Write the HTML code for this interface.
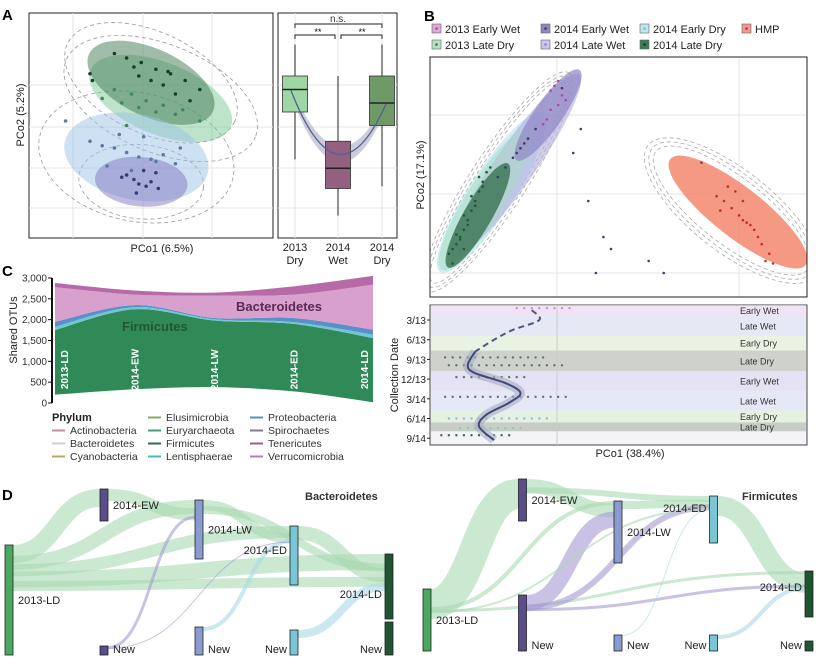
<!DOCTYPE html>
<html><head><meta charset="utf-8"><style>
html,body{margin:0;padding:0;background:#fff;}
svg{display:block;font-family:"Liberation Sans",Arial,sans-serif;}
</style></head><body>
<svg id="fig" width="818" height="665" viewBox="0 0 818 665" xmlns="http://www.w3.org/2000/svg">
<defs><clipPath id="clipB"><rect x="430" y="57" width="377" height="240"/></clipPath></defs>
<text x="2" y="20" font-size="15" font-weight="bold">A</text>
<text x="424" y="21" font-size="15" font-weight="bold">B</text>
<text x="2" y="276" font-size="15" font-weight="bold">C</text>
<text x="2" y="500" font-size="15" font-weight="bold">D</text>

<g id="gA">
<rect x="29" y="13" width="244" height="225" fill="#fff" stroke="#222" stroke-width="1"/>
<g stroke="#e4e4e4" stroke-width="1">
<line x1="73" y1="13" x2="73" y2="238"/><line x1="143" y1="13" x2="143" y2="238"/><line x1="212" y1="13" x2="212" y2="238"/>
<line x1="29" y1="85" x2="273" y2="85"/><line x1="29" y1="127" x2="273" y2="127"/><line x1="29" y1="168" x2="273" y2="168"/><line x1="29" y1="208" x2="273" y2="208"/>
</g>
</g>
<text x="162" y="252" font-size="11" text-anchor="middle" fill="#222">PCo1 (6.5%)</text>
<text transform="translate(24,115) rotate(-90)" font-size="11" text-anchor="middle" fill="#222">PCo2 (5.2%)</text>

<g id="gBox">
<rect x="278" y="13" width="119" height="225" fill="#fff" stroke="#222" stroke-width="1"/>
<g stroke="#e4e4e4">
<line x1="295" y1="13" x2="295" y2="238"/><line x1="338" y1="13" x2="338" y2="238"/><line x1="382" y1="13" x2="382" y2="238"/>
<line x1="278" y1="85" x2="397" y2="85"/><line x1="278" y1="127" x2="397" y2="127"/><line x1="278" y1="168" x2="397" y2="168"/><line x1="278" y1="208" x2="397" y2="208"/>
</g>
<path d="M295 28 V24 H382 V28" fill="none" stroke="#222"/>
<text x="338" y="22" font-size="10" text-anchor="middle" fill="#333">n.s.</text>
<path d="M295 39 V35 H335 V39" fill="none" stroke="#222"/>
<path d="M341 39 V35 H382 V39" fill="none" stroke="#222"/>
<text x="318" y="35" font-size="9" text-anchor="middle">**</text>
<text x="362" y="35" font-size="9" text-anchor="middle">**</text>
</g>

<g id="gBlegend"></g>
<rect x="430" y="57" width="377" height="240" fill="#fff"/>
<g stroke="#e4e4e4">
<line x1="557" y1="57" x2="557" y2="297"/><line x1="739" y1="57" x2="739" y2="297"/>
<line x1="430" y1="115" x2="807" y2="115"/><line x1="430" y1="194" x2="807" y2="194"/><line x1="430" y1="273" x2="807" y2="273"/>
</g>
<g id="gB" clip-path="url(#clipB)"></g>
<rect x="430" y="57" width="377" height="240" fill="none" stroke="#222"/>
<text transform="translate(424,175) rotate(-90)" font-size="11" text-anchor="middle" fill="#222">PCo2 (17.1%)</text>
<g id="gBt"></g>
<text x="630" y="457" font-size="11" text-anchor="middle" fill="#222">PCo1 (38.4%)</text>
<text transform="translate(398,375) rotate(-90)" font-size="11" text-anchor="middle" fill="#222">Collection Date</text>

<g id="gC"></g>
<text transform="translate(17,330) rotate(-90)" font-size="11" text-anchor="middle" fill="#222">Shared OTUs</text>
<g id="gCleg"></g>

<g id="gD"></g>
<text x="305" y="500" font-size="11" font-weight="bold" fill="#333">Bacteroidetes</text>
<text x="742" y="500" font-size="11" font-weight="bold" fill="#333">Firmicutes</text>
</svg>
<script>
const NS='http://www.w3.org/2000/svg';
function mk(tag,attrs,parent){const e=document.createElementNS(NS,tag);for(const k in attrs)e.setAttribute(k,attrs[k]);parent.appendChild(e);return e;}

/* ---------- Panel A scatter data ---------- */
const aGroups=['2013 Late Dry','2014 Late Dry','2014 Late Wet','2014 Early Wet'];
const aColors=['#7cc895','#3f7a52','#9cc4e6','#8478c0'];
const aEllCx=[54,50,44,46];
const aEllCy=[62,69,36,25];
const aEllRx=[31,28,30,19];
const aEllRy=[16,15,19,11];
const aEllAng=[22,25,12,5];
const aPtsX=[[30,38,45,52,60,35,42,48,55,63,70,40],[35,40,46,52,58,64,70,45,50,55,60,66,43,57,25,26],[25,30,35,40,45,50,55,60,32,42,52,62,47,37,15],[40,43,45,47,50,53,38,44,48,52]];
const aPtsY=[[62,60,58,56,55,66,64,61,59,57,52,50],[82,80,78,75,73,70,66,72,70,68,64,61,76,74,73,70],[43,41,40,38,36,35,37,33,32,30,34,40,45,46,52],[28,26,24,30,25,22,27,20,23,29]];
const aDot=['#3f8a5a','#17402a','#5a7aa8','#3a3a7a'];
const ax=v=>29+v*2.44, ay=v=>238-v*2.25;
const gA=document.getElementById('gA');
for(let i=0;i<aGroups.length;i++){
  const d=mk('ellipse',{cx:ax(aEllCx[i]),cy:ay(aEllCy[i]),rx:aEllRx[i]*2.44*1.35,ry:aEllRy[i]*2.25*1.5,transform:`rotate(${aEllAng[i]} ${ax(aEllCx[i])} ${ay(aEllCy[i])})`,fill:'none',stroke:'#999','stroke-dasharray':'4 3','stroke-width':0.8},gA);
  
  
}
for(let i=0;i<aGroups.length;i++){
  const e=mk('ellipse',{cx:ax(aEllCx[i]),cy:ay(aEllCy[i]),rx:aEllRx[i]*2.44,ry:aEllRy[i]*2.25,transform:`rotate(${aEllAng[i]} ${ax(aEllCx[i])} ${ay(aEllCy[i])})`,fill:aColors[i],'fill-opacity':0.5},gA);
  
  
}
for(let i=0;i<aGroups.length;i++){
  for(let j=0;j<aPtsX[i].length;j++){
    const p=mk('circle',{cx:ax(aPtsX[i][j]),cy:ay(aPtsY[i][j]),r:1.8,fill:aDot[i]},gA);
    
    
  }
}

/* ---------- Panel A boxplot data ---------- */
const boxCats=['2013|Dry','2014|Wet','2014|Dry'];
const boxQ1=[56,22,50];
const boxMed=[66,31,60];
const boxQ3=[72,43,72];
const boxLo=[35,10,23];
const boxHi=[86,72,86];
const boxColors=['#9fd6a6','#93607f','#6f9a68'];
const bxPos=[295,338,382];
const by=v=>238-v*2.25;
const gBox=document.getElementById('gBox');
const rib=mk('path',{d:`M${bxPos[0]-4} ${by(boxMed[0])-4} Q${bxPos[1]} ${by(boxMed[1])*1.25-10} ${bxPos[2]+4} ${by(boxMed[2])-4} L${bxPos[2]+4} ${by(boxMed[2])+6} Q${bxPos[1]} ${by(boxMed[1])*1.25+12} ${bxPos[0]-4} ${by(boxMed[0])+6}Z`,fill:'#9a9ab8','fill-opacity':0.5},gBox);


for(let i=0;i<boxCats.length;i++){
  const x=bxPos[i];
  const w=mk('line',{x1:x,x2:x,y1:by(boxHi[i]),y2:by(boxLo[i]),stroke:'#222','stroke-width':1},gBox);
  
  
  const b=mk('rect',{x:x-12.5,y:by(boxQ3[i]),width:25,height:by(boxQ1[i])-by(boxQ3[i]),fill:boxColors[i],stroke:'#333','stroke-width':0.8},gBox);
  
  
  const m=mk('line',{x1:x-12.5,x2:x+12.5,y1:by(boxMed[i]),y2:by(boxMed[i]),stroke:'#222','stroke-width':1.4},gBox);
  
  
  const parts=boxCats[i].split('|');
  const t1=mk('text',{x:x,y:251,'font-size':11,'text-anchor':'middle',fill:'#222'},gBox);t1.textContent=parts[0];
  
  
  const t2=mk('text',{x:x,y:264,'font-size':11,'text-anchor':'middle',fill:'#222'},gBox);t2.textContent=parts[1];
  
  
}
const tr=mk('path',{d:`M${bxPos[0]-4} ${by(boxMed[0])+1} Q${bxPos[1]} ${by(boxMed[1])*1.25+1} ${bxPos[2]+4} ${by(boxMed[2])+1}`,fill:'none',stroke:'#55608a','stroke-width':1.3},gBox);



/* ---------- Panel B legend ---------- */
const legLabels=['2013 Early Wet','2014 Early Wet','2014 Early Dry','HMP','2013 Late Dry','2014 Late Wet','2014 Late Dry'];
const legColors=['#e2a6db','#8f86c4','#bfe7ee','#f19a8f','#b5e0c2','#c8c6ea','#3e7a56'];
const legDots=['#b04aa0','#3d3670','#6cc0d0','#c0302a','#2d7a4c','#8a86c6','#0f3a22'];
const legX=[432,541,640,742,432,541,640];
const legY=[29,29,29,29,45,45,45];
const gBl=document.getElementById('gBlegend');
for(let i=0;i<legLabels.length;i++){
  const r=mk('rect',{x:legX[i],y:legY[i]-5,width:9,height:9,fill:legColors[i],stroke:'#666','stroke-width':0.6},gBl);
  
  
  const c=mk('circle',{cx:legX[i]+4.5,cy:legY[i]-0.5,r:1.3,fill:legDots[i]},gBl);
  
  
  const t=mk('text',{x:legX[i]+13,y:legY[i]+4,'font-size':11,fill:'#222'},gBl);t.textContent=legLabels[i];
  
  
}

/* ---------- Panel B scatter data ---------- */
const bEllCx=[16.4,22.5,14.6,31.3,12.7,81.7];
const bEllCy=[43.7,54.6,40.4,75.8,34,35.4];
const bEllRx=[95,112,82,55,60,86];
const bEllRy=[22,20,19,14,14,25];
const bEllAng=[-57,-55,-58,-55,-60,38];
const bEllFill=['#bfe7ee','#b7b2e0','#a8dcc0','#8f86c4','#2f6b48','#f3866e'];
const bEllOp=[0.75,0.65,0.5,0.7,0.75,0.85];
const bx=v=>430+v*3.77, byy=v=>297-v*2.4;
const gB=document.getElementById('gB');
const bDashCx=[18,18,18,80,80,80];
const bDashCy=[48,48,48,36,36,36];
const bDashRx=[120,125,130,96,101,106];
const bDashRy=[22,25,28,33,37,41];
const bDashAng=[-57,-57,-57,38,38,38];
for(let i=0;i<bDashCx.length;i++){
  const e=mk('ellipse',{cx:bx(bDashCx[i]),cy:byy(bDashCy[i]),rx:bDashRx[i],ry:bDashRy[i],transform:`rotate(${bDashAng[i]} ${bx(bDashCx[i])} ${byy(bDashCy[i])})`,fill:'none',stroke:'#aaa','stroke-dasharray':'4 3','stroke-width':0.8},gB);
  
  
}
for(let i=0;i<bEllCx.length;i++){
  const e=mk('ellipse',{cx:bx(bEllCx[i]),cy:byy(bEllCy[i]),rx:bEllRx[i],ry:bEllRy[i],transform:`rotate(${bEllAng[i]} ${bx(bEllCx[i])} ${byy(bEllCy[i])})`,fill:bEllFill[i],'fill-opacity':bEllOp[i]},gB);
  
  
}
const bPtsX=[[5,6,7,8,9,10,11,12,13,14,15,7,9,11,13,6,8,10,12,14,16,9],[32,33,34,35,36,34,32,31,30],[22,24,26,28,20,25,18,23],[76,78,80,82,84,86,81,83,79,85,88,90,77,87,72,83,89,91],[35,40,44,48,58,62,46,42,38]];
const bPtsY=[[18,20,22,25,28,32,36,40,44,48,52,26,34,42,50,14,24,30,38,46,54,20],[86,88,90,84,82,80,78,74,72],[58,62,66,70,54,64,50,60],[42,40,37,34,31,28,44,40,46,30,22,18,36,25,56,32,15,14],[87,70,10,20,15,10,25,40,60]];
const bPtsC=['#1e5a38','#b04aa0','#3d3670','#c0302a','#4a3a6a'];
for(let g=0;g<bPtsX.length;g++)for(let j=0;j<bPtsX[g].length;j++){
  const p=mk('circle',{cx:bx(bPtsX[g][j]),cy:byy(bPtsY[g][j]),r:1.3,fill:bPtsC[g]},gB);
  
  
}

/* ---------- Panel B timeline ---------- */
const bandLabels=['Early Wet','Late Wet','Early Dry','Late Dry','Early Wet','Late Wet','Early Dry','Late Dry'];
const bandStart=[0,0.55,1.55,2.3,3.35,4.35,5.35,5.95];
const bandEnd=[0.55,1.55,2.3,3.35,4.35,5.35,5.95,6.4];
const bandColors=['#efe4f5','#e6e8f6','#e8f3e4','#cfd2cc','#e4e2f3','#e6e8f6','#e5f2e2','#c8ccc6'];
const dateTicks=['3/13','6/13','9/13','12/13','3/14','6/14','9/14'];
const curveX=[27,29,22,17,12,10,12,20,24,21,15,13,17];
const curveT=[-0.5,0,0.5,1,1.6,2.3,2.7,3.2,3.7,4.2,4.8,5.4,6.1];
const tx=v=>430+v*3.77, ty=v=>320+v*19.7;
const gBt=document.getElementById('gBt');
const fr=mk('rect',{x:430,y:305,width:377,height:140,fill:'#f4f4f8',stroke:'#444'},gBt);


for(let i=0;i<bandLabels.length;i++){
  const r=mk('rect',{x:431,y:ty(bandStart[i]-0.75),width:375,height:(bandEnd[i]-bandStart[i])*19.7,fill:bandColors[i]},gBt);
  
  
  const t=mk('text',{x:740,y:ty((bandStart[i]+bandEnd[i])/2-0.75)+3.5,'font-size':9,fill:'#333'},gBt);t.textContent=bandLabels[i];
  
  
}
const vl=mk('line',{x1:557,x2:557,y1:305,y2:445,stroke:'#ccc'},gBt);


for(let i=0;i<dateTicks.length;i++){
  const t=mk('text',{x:426,y:ty(i)+4,'font-size':10,'text-anchor':'end',fill:'#222'},gBt);t.textContent=dateTicks[i];
  
  
  const k=mk('line',{x1:427,x2:430,y1:ty(i),y2:ty(i),stroke:'#222'},gBt);
  
  
}
const dotRowsT=[-0.6,1.9,2.3,2.9,3.9,5.0,5.5,5.85];
const dotRowsX0=[23,4,5,7,4,5,8,3];
const dotRowsX1=[38,30,35,25,37,32,25,22];
const dotRowsC=['#d070c8','#2a6a44','#3d5a48','#3d5a48','#4a4a7a','#8aa4d8','#7acc9a','#0f4a2a'];
for(let r=0;r<dotRowsT.length;r++){
  for(let v=dotRowsX0[r];v<=dotRowsX1[r];v+=2){
    const p=mk('circle',{cx:tx(v),cy:ty(dotRowsT[r]),r:1.2,fill:dotRowsC[r],'fill-opacity':0.8},gBt);
    
    
  }
}
function cr(xs,ys){let d=`M${xs[0]} ${ys[0]}`;for(let i=0;i<xs.length-1;i++){const x0=xs[Math.max(0,i-1)],y0=ys[Math.max(0,i-1)],x1=xs[i],y1=ys[i],x2=xs[i+1],y2=ys[i+1],x3=xs[Math.min(xs.length-1,i+2)],y3=ys[Math.min(xs.length-1,i+2)];d+=` C${x1+(x2-x0)/6} ${y1+(y2-y0)/6} ${x2-(x3-x1)/6} ${y2-(y3-y1)/6} ${x2} ${y2}`;}return d;}
const cxs=curveX.map(tx), cys=curveT.map(ty);
const cut=5;
const rb=mk('path',{d:cr(cxs.slice(cut-1),cys.slice(cut-1)),fill:'none',stroke:'#aaaac4','stroke-width':9,'stroke-opacity':0.6},gBt);


const dl=mk('path',{d:cr(cxs.slice(0,cut),cys.slice(0,cut)),fill:'none',stroke:'#4a5a80','stroke-width':2,'stroke-dasharray':'6 4'},gBt);


const sl=mk('path',{d:cr(cxs.slice(cut-1),cys.slice(cut-1)),fill:'none',stroke:'#3e4a78','stroke-width':2},gBt);



/* ---------- Panel C stream data ---------- */
const cCats=['2013-LD','2014-EW','2014-LW','2014-ED','2014-LD'];
const cBase=[200,330,380,280,20];
const cFirm=[1550,1920,1600,1620,1540];
const cLent=[80,50,30,40,80];
const cProt=[120,50,30,100,120];
const cBact=[830,250,540,560,1080];
const cVerr=[100,100,70,200,210];
const cTicks=[0,500,1000,1500,2000,2500,3000];
const cTickLabels=['0','500','1,000','1,500','2,000','2,500','3,000'];
const cx=i=>55+i*79.5, cy=v=>403-v*0.04167;
const gC=document.getElementById('gC');
const layers=[cFirm,cLent,cProt,cBact,cVerr];
const layerColors=['#2f8a58','#6ec8d4','#5a8fc8','#d8a0cc','#b86aa8'];
const layerNames=['firmicutes-area','lentisphaerae-area','proteobacteria-area','bacteroidetes-area','verrucomicrobia-area'];
let lower=cBase.slice();
const xsC=cCats.map((c,i)=>cx(i));
for(let L=0;L<layers.length;L++){
  const upper=lower.map((v,i)=>v+layers[L][i]);
  const top=cr(xsC,upper.map(cy));
  const bot=cr(xsC.slice().reverse(),lower.map(cy).reverse()).replace('M','L');
  const p=mk('path',{d:top+' '+bot+'Z',fill:layerColors[L]},gC);
  
  
  lower=upper;
}
const axl=mk('line',{x1:52,x2:52,y1:cy(3000),y2:cy(0),stroke:'#111','stroke-width':2},gC);


for(let i=0;i<cTicks.length;i++){
  const t=mk('text',{x:47,y:cy(cTicks[i])+3.5,'font-size':10,'text-anchor':'end',fill:'#333'},gC);t.textContent=cTickLabels[i];
  
  
  const k=mk('line',{x1:48,x2:52,y1:cy(cTicks[i]),y2:cy(cTicks[i]),stroke:'#111'},gC);
  
  
}
for(let i=0;i<cCats.length;i++){
  const x=Math.min(Math.max(cx(i),64),364);
  const t=mk('text',{transform:`translate(${x+4},${cy(800)}) rotate(-90)`,'font-size':10,'font-weight':'bold','text-anchor':'middle',fill:'#fff'},gC);t.textContent=cCats[i];
  
  
}
const fl=mk('text',{x:122,y:331,'font-size':13,'font-weight':'bold',fill:'#1e5a30'},gC);fl.textContent='Firmicutes';


const bl=mk('text',{x:236,y:311,'font-size':13,'font-weight':'bold',fill:'#5a2a55'},gC);bl.textContent='Bacteroidetes';



/* ---------- Panel C legend ---------- */
const phyla=['Actinobacteria','Bacteroidetes','Cyanobacteria','Elusimicrobia','Euryarchaeota','Firmicutes','Lentisphaerae','Proteobacteria','Spirochaetes','Tenericutes','Verrucomicrobia'];
const phylaColors=['#c98aa8','#d8c8d8','#b8a860','#8aa86a','#4a9a80','#3a6a50','#4ab8c8','#5a8fc8','#8a7a90','#a85a88','#b87ab0'];
const gCl=document.getElementById('gCleg');
const ph=mk('text',{x:52,y:421,'font-size':11,'font-weight':'bold',fill:'#222'},gCl);ph.textContent='Phylum';


const phPos=[[52,434],[52,447],[52,460],[148,421],[148,434],[148,447],[148,460],[250,421],[250,434],[250,447],[250,460]];
for(let i=0;i<phyla.length;i++){
  const [x,y]=phPos[i];
  const l=mk('line',{x1:x,x2:x+13,y1:y-3.5,y2:y-3.5,stroke:phylaColors[i],'stroke-width':2},gCl);
  
  
  const t=mk('text',{x:x+18,y:y,'font-size':10.5,fill:'#333'},gCl);t.textContent=phyla[i];
  
  
}

/* ---------- Panel D sankeys ---------- */
const gD=document.getElementById('gD');
const sNodeLabel=['2013-LD','2014-EW','New','2014-LW','New','2014-ED','New','2014-LD','New'];
const sNodeCol=['#4aa860','#5b4c8e','#5b4c8e','#8a9bcf','#8a9bcf','#7ac6d6','#7ac6d6','#1e5533','#1e5533'];
const sNodeStage=[0,1,1,2,2,3,3,4,4];
const bacTop=[545,489,646,500,627,526,630,554,622];
const bacBot=[655,521,655,559,655,585,655,619,655];
const firTop=[589,479,595,501,635,496,635,571,641];
const firBot=[651,521,651,563,651,543,651,617,651];
const bacFlowFrom=[0,0,0,0,1,3,3,5,0,2,4,6,2];
const bacFlowTo=[1,3,5,7,3,5,7,7,7,3,5,7,5];
const bacFlowW=[18,14,12,16,12,10,8,14,10,3,4,8,1];
const firFlowFrom=[0,0,0,1,1,3,5,2,2,2,0,6,4];
const firFlowTo=[1,3,7,3,5,5,7,3,5,7,5,7,5];
const firFlowW=[30,4,3,14,6,8,20,16,6,3,2,4,1];
const flowCol=i=>(i===0||i===1||i===3||i===5)?'#a9d9b0':(i===2?'#a79ad4':(i===4||i===6?'#a9d8e6':'#b5c4d8'));
function drawSankey(x0,dx,tops,bots,from,to,wts,prefix){
  const nx=s=>x0+s*dx;
  const offOut=tops.map(()=>0), offIn=tops.map(()=>0);
  for(let f=0;f<from.length;f++){
    const a=from[f],b=to[f],w=wts[f];
    const y1=tops[a]+offOut[a]+w/2, y2=tops[b]+offIn[b]+w/2;
    offOut[a]+=w*0.6; offIn[b]+=w*0.6;
    const xa=nx(sNodeStage[a])+8, xb=nx(sNodeStage[b]);
    const m=(xa+xb)/2;
    const p=mk('path',{d:`M${xa} ${y1} C${m} ${y1} ${m} ${y2} ${xb} ${y2}`,fill:'none',stroke:flowCol(a),'stroke-width':w,'stroke-opacity':0.6},gD);
    
    
  }
  for(let i=0;i<tops.length;i++){
    const x=nx(sNodeStage[i]);
    const r=mk('rect',{x:x,y:tops[i],width:8,height:bots[i]-tops[i],fill:sNodeCol[i],stroke:'#222','stroke-width':0.8},gD);
    
    
    let tx2=x+13, anchor='start', tyy=(tops[i]+bots[i])/2+4;
    if(sNodeLabel[i]==='New'){tyy=bots[i]-2;}
    if(sNodeStage[i]>=3){tx2=x-3;anchor='end';}
    if(sNodeStage[i]===3&&sNodeLabel[i]!=='New'){tyy=tops[i]+(prefix==='firmicutes'?16:28);}
    if(sNodeStage[i]===4&&sNodeLabel[i]!=='New'){tyy=tops[i]+(prefix==='firmicutes'?20:44);}
    const t=mk('text',{x:tx2,y:tyy,'font-size':11,'text-anchor':anchor,fill:'#222'},gD);t.textContent=sNodeLabel[i];
    
    
  }
}
drawSankey(5,95,bacTop,bacBot,bacFlowFrom,bacFlowTo,bacFlowW,'bacteroidetes');
drawSankey(423,95.5,firTop,firBot,firFlowFrom,firFlowTo,firFlowW,'firmicutes');
</script>
</body></html>
